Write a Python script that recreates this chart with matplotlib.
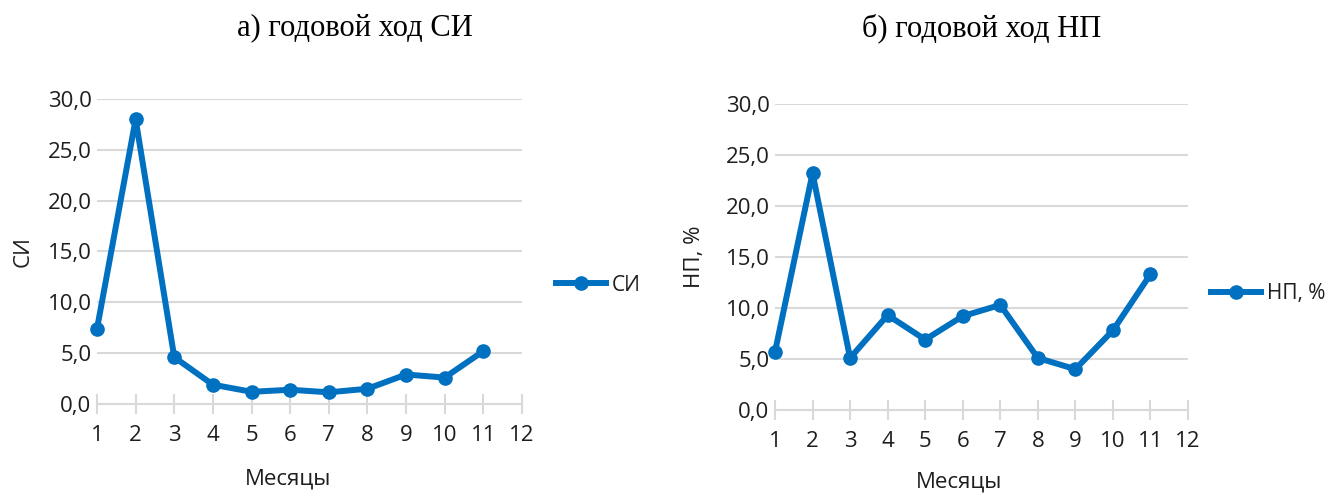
import matplotlib.pyplot as plt
from matplotlib.ticker import FuncFormatter

months = [1, 2, 3, 4, 5, 6, 7, 8, 9, 10, 11]
si_values = [7.4, 28.0, 4.6, 1.9, 1.2, 1.4, 1.15, 1.5, 2.9, 2.6, 5.2]
np_values = [5.7, 23.2, 5.1, 9.3, 6.9, 9.2, 10.3, 5.1, 4.0, 7.8, 13.3]
month_ticks = list(range(1, 13))
y_ticks = [0, 5, 10, 15, 20, 25, 30]

blue = "#0070C0"
grid_col = "#d9d9d9"
txt_col = "#1e1e1e"
sans = ["Open Sans", "DejaVu Sans"]

fig = plt.figure(figsize=(13.28, 4.98), dpi=100)
W, H = 1328, 498


def make_axes(x0, x1, ytop, ybot):
    return fig.add_axes([x0 / W, 1 - ybot / H, (x1 - x0) / W, (ybot - ytop) / H])


def style_chart(ax, values, ylabel, ylabel_x, title, title_x, xlabel_pos, leg_xy):
    ax.plot(months, values, color=blue, lw=4.3, marker="o", ms=9.5,
            label=ylabel, solid_joinstyle="round", clip_on=False, zorder=3)
    ax.set_xlim(1, 12)
    ax.set_ylim(0, 30)
    ax.set_xticks(month_ticks)
    ax.set_yticks(y_ticks)
    ax.yaxis.set_major_formatter(FuncFormatter(lambda v, p: f"{v:.1f}".replace(".", ",")))
    ax.grid(axis="y", color=grid_col, lw=1.5)
    ax.set_axisbelow(True)
    for s in ["top", "right", "left"]:
        ax.spines[s].set_visible(False)
    ax.spines["bottom"].set_color(grid_col)
    ax.spines["bottom"].set_linewidth(1.5)
    ax.tick_params(axis="y", length=0, pad=4, labelsize=16)
    ax.tick_params(axis="x", direction="inout", length=14, width=1.5,
                   color=grid_col, pad=8, labelsize=16)
    for lab in ax.get_xticklabels() + ax.get_yticklabels():
        lab.set_family(sans)
        lab.set_color(txt_col)
    ax.set_ylabel(ylabel, fontsize=16, family=sans, color=txt_col)
    ax.yaxis.set_label_coords(ylabel_x, 0.5)
    ax.set_xlabel("Месяцы", fontsize=16, family=sans, color=txt_col)
    ax.xaxis.set_label_coords(*xlabel_pos)
    fig.text(title_x / W, 1 - 28 / H, title, ha="center", va="center",
             fontsize=22, family="Liberation Serif")
    leg = ax.legend(loc="center left", bbox_to_anchor=leg_xy, frameon=False,
                    handlelength=2.4, handletextpad=0.3, borderaxespad=0,
                    prop={"family": sans, "size": 15})
    for t in leg.get_texts():
        t.set_color(txt_col)


ax1 = make_axes(97, 522, 99, 404)
style_chart(ax1, si_values, "СИ", -0.15, "а) годовой ход СИ", 355, (0.45, -0.21), (1.06, 0.39))

ax2 = make_axes(775, 1188, 104, 410)
style_chart(ax2, np_values, "НП, %", -0.17, "б) годовой ход НП", 982, (0.445, -0.2), (1.035, 0.38))

fig.savefig("out.png", dpi=100)
